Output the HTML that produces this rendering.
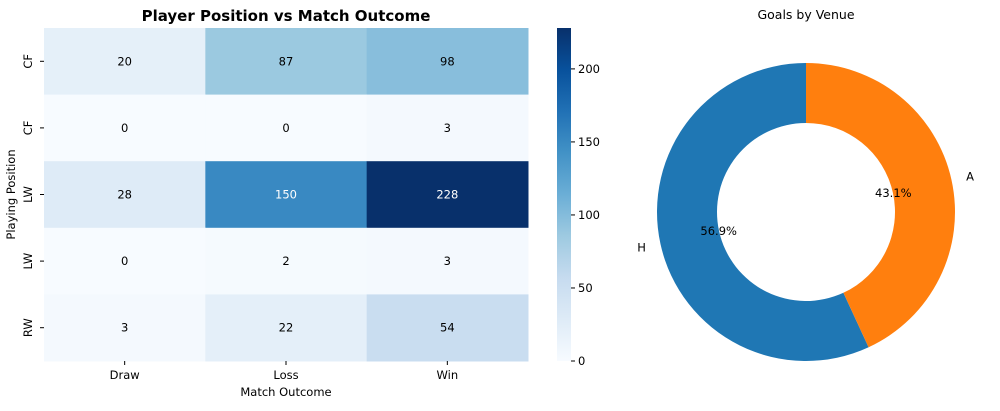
<!DOCTYPE html>
<html><head><meta charset="utf-8"><style>
body{margin:0;background:#fff;font-family:"DejaVu Sans","Liberation Sans",sans-serif;}
svg text{font-family:"DejaVu Sans","Liberation Sans",sans-serif;}
</style></head><body>
<svg id="c" width="1000" height="407" viewBox="0 0 1000 407" xmlns="http://www.w3.org/2000/svg"></svg>
<script>
const rows=["CF","CF","LW","LW","RW"];
const cols=["Draw","Loss","Win"];
const values=[[20,87,98],[0,0,3],[28,150,228],[0,2,3],[3,22,54]];
const cbTicks=[0,50,100,150,200];
const pieLabels=["H","A"];
const pieValues=[56.9,43.1];
const pieColors=["#1f77b4","#ff7f0e"];

const NS="http://www.w3.org/2000/svg";
const svg=document.getElementById('c');
function mk(t,a,p){const e=document.createElementNS(NS,t);for(const k in a)e.setAttribute(k,a[k]);(p||svg).appendChild(e);return e;}
const stops=["#f7fbff","#deebf7","#c6dbef","#9ecae1","#6baed6","#4292c6","#2171b5","#08519c","#08306b"].map(h=>[parseInt(h.slice(1,3),16),parseInt(h.slice(3,5),16),parseInt(h.slice(5,7),16)]);
const vmin=0,vmax=Math.max(...values.flat());
function cmap(v){let t=Math.max(0,Math.min(1,(v-vmin)/(vmax-vmin)))*8;let i=Math.min(7,Math.floor(t));let f=t-i;return stops[i].map((c,k)=>Math.round(c+(stops[i+1][k]-c)*f));}
const L=44,R=528,T=28,B=361;
const FS=11.5;
const cw=(R-L)/cols.length,rh=(B-T)/rows.length;
const xC=i=>L+cw*(i+0.5), yR=j=>T+rh*(j+0.5);
let t=mk('text',{x:(L+R)/2,y:21,'text-anchor':'middle','font-size':15,'font-weight':'bold'});t.textContent="Player Position vs Match Outcome";

values.forEach((row,j)=>row.forEach((v,i)=>{
 const c=cmap(v);
 const r=mk('rect',{x:L+cw*i,y:T+rh*j,width:cw+0.5,height:rh+0.5,fill:`rgb(${c})`});
 
 const lum=(0.2126*c[0]+0.7152*c[1]+0.0722*c[2])/255;
 const tx=mk('text',{x:xC(i),y:yR(j)+4,'text-anchor':'middle','font-size':FS,fill:lum<0.6?'#fff':'#000'});tx.textContent=v;
 
}));
rows.forEach((r,j)=>{mk('line',{x1:L-4,x2:L,y1:yR(j),y2:yR(j),stroke:'#000'});
 const tx=mk('text',{x:0,y:0,'text-anchor':'middle','font-size':FS,transform:`translate(${L-12},${yR(j)}) rotate(-90)`});tx.textContent=r;
 });
cols.forEach((c,i)=>{mk('line',{x1:xC(i),x2:xC(i),y1:B,y2:B+4,stroke:'#000'});
 const tx=mk('text',{x:xC(i),y:B+18,'text-anchor':'middle','font-size':FS});tx.textContent=c;
 });
t=mk('text',{x:(L+R)/2,y:396,'text-anchor':'middle','font-size':FS});t.textContent="Match Outcome";

t=mk('text',{x:0,y:0,'text-anchor':'middle','font-size':FS,transform:`translate(15,${(T+B)/2}) rotate(-90)`});t.textContent="Playing Position";

// colorbar
const cx=557,cwid=14;
const defs=mk('defs',{});const g=mk('linearGradient',{id:'cb',x1:0,y1:1,x2:0,y2:0},defs);
stops.forEach((s,k)=>mk('stop',{offset:k/8,'stop-color':`rgb(${s})`},g));
const cb=mk('rect',{x:cx,y:T,width:cwid,height:B-T,fill:'url(#cb)'});

const yCb=v=>B-(v-vmin)/(vmax-vmin)*(B-T);
cbTicks.forEach(v=>{mk('line',{x1:cx+cwid,x2:cx+cwid+4,y1:yCb(v),y2:yCb(v),stroke:'#000'});
 const tx=mk('text',{x:cx+cwid+7,y:yCb(v)+4,'font-size':FS});tx.textContent=v;
 });
// donut
const pcx=806,pcy=212,Ro=149,Ri=89;
t=mk('text',{x:pcx,y:19,'text-anchor':'middle','font-size':12.5});t.textContent="Goals by Venue";

const tot=pieValues.reduce((a,b)=>a+b,0);let ang=90;
const pt=(a,r)=>[pcx+r*Math.cos(a*Math.PI/180),pcy-r*Math.sin(a*Math.PI/180)];
pieValues.forEach((v,k)=>{
 const sw=v/tot*360,a0=ang,a1=ang+sw;ang=a1;
 const [x0,y0]=pt(a0,Ro),[x1,y1]=pt(a1,Ro),[x2,y2]=pt(a1,Ri),[x3,y3]=pt(a0,Ri);const lg=sw>180?1:0;
 const p=mk('path',{d:`M${x0},${y0} A${Ro},${Ro} 0 ${lg} 0 ${x1},${y1} L${x2},${y2} A${Ri},${Ri} 0 ${lg} 1 ${x3},${y3} Z`,fill:pieColors[k]});
 
 const m=(a0+a1)/2;const [lx,ly]=pt(m,Ro*1.1);
 const tl=mk('text',{x:lx,y:ly+4,'text-anchor':Math.cos(m*Math.PI/180)<0?'end':'start','font-size':FS});tl.textContent=pieLabels[k];
 
 const [px,py]=pt(m,Ro*0.6);
 const tp=mk('text',{x:px,y:py+4,'text-anchor':'middle','font-size':FS});tp.textContent=v.toFixed(1)+'%';
 
});
</script>
</body></html>
